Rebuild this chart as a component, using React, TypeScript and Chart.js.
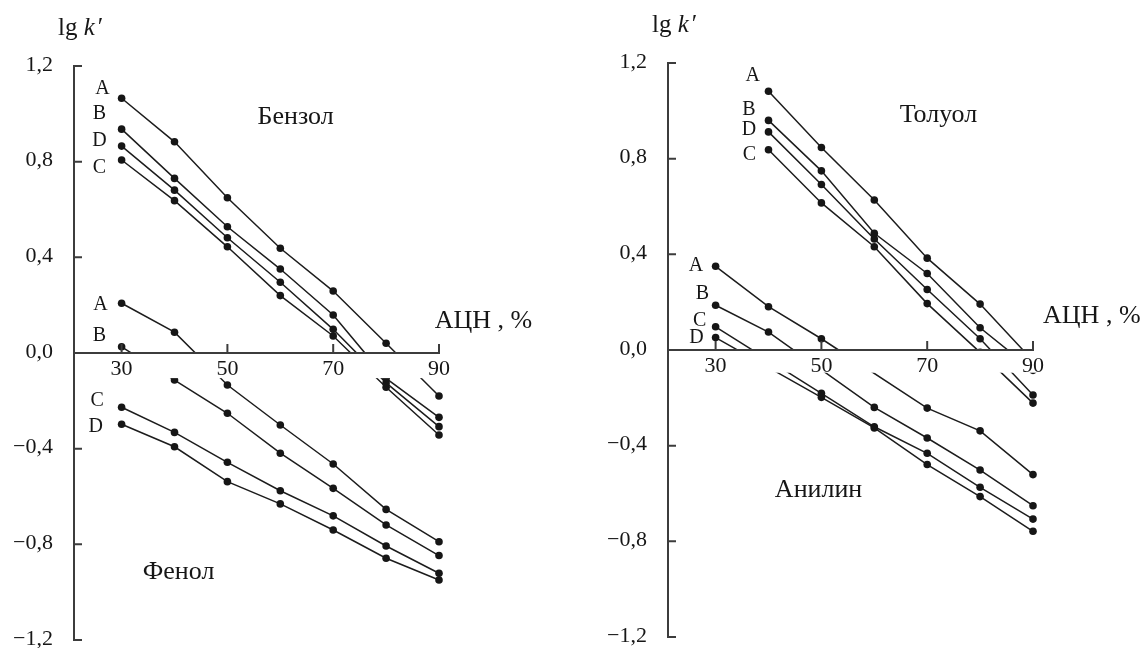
import React, { useEffect, useRef } from 'react';
import { Chart, registerables } from 'chart.js';

Chart.register(...registerables);

// ---------- data ----------
const concentrations = [30, 40, 50, 60, 70, 80, 90];
const yTicks = [1.2, 0.8, 0.4, 0, -0.4, -0.8, -1.2];
const yTickLabels = ['1,2', '0,8', '0,4', '0,0', '−0,4', '−0,8', '−1,2'];
const xTicks = [30, 50, 70, 90];
const xTickLabels = ['30', '50', '70', '90'];

// Бензол
const benzeneA = [1.065, 0.883, 0.649, 0.438, 0.259, 0.041, -0.18];
const benzeneB = [0.936, 0.73, 0.528, 0.351, 0.159, -0.106, -0.269];
const benzeneD = [0.865, 0.681, 0.482, 0.296, 0.099, -0.125, -0.308];
const benzeneC = [0.807, 0.637, 0.444, 0.24, 0.071, -0.143, -0.343];
// Фенол
const phenolA = [0.208, 0.087, -0.134, -0.301, -0.464, -0.654, -0.789];
const phenolB = [0.026, -0.113, -0.252, -0.419, -0.566, -0.719, -0.847];
const phenolC = [-0.227, -0.332, -0.457, -0.576, -0.681, -0.807, -0.921];
const phenolD = [-0.298, -0.392, -0.538, -0.631, -0.74, -0.858, -0.949];
// Толуол
const tolueneA = [null, 1.082, 0.847, 0.627, 0.384, 0.192, -0.045];
const tolueneB = [null, 0.96, 0.749, 0.488, 0.32, 0.093, -0.085];
const tolueneD = [null, 0.912, 0.692, 0.464, 0.253, 0.047, -0.188];
const tolueneC = [null, 0.837, 0.615, 0.432, 0.194, -0.01, -0.222];
// Анилин
const anilineA = [0.35, 0.181, 0.047, null, -0.243, -0.338, -0.521];
const anilineB = [0.187, 0.075, null, -0.24, -0.368, -0.502, -0.651];
const anilineC = [0.097, null, -0.181, -0.321, -0.432, -0.574, -0.707];
const anilineD = [0.052, null, -0.198, -0.326, -0.479, -0.613, -0.758];

const axisTitle = 'АЦН , %';

// ---------- panel configs ----------
type Label = { text: string; x: number; y: number };
type Panel = {
  series: (number | null)[][];
  letters: Label[];
  titles: Label[];
  unitPos: { x: number; y: number };
  bandBottom: number;
  padding: { left: number; right: number; top: number; bottom: number };
  width: number;
  offset: number;
};

const leftPanel: Panel = {
  series: [benzeneA, benzeneB, benzeneD, benzeneC, phenolA, phenolB, phenolC, phenolD],
  letters: [
    { text: 'A', x: 26.4, y: 1.108 },
    { text: 'B', x: 25.8, y: 1.003 },
    { text: 'D', x: 25.8, y: 0.89 },
    { text: 'C', x: 25.8, y: 0.778 },
    { text: 'A', x: 26.0, y: 0.208 },
    { text: 'B', x: 25.8, y: 0.075 },
    { text: 'C', x: 25.4, y: -0.196 },
    { text: 'D', x: 25.1, y: -0.305 },
  ],
  titles: [
    { text: 'Бензол', x: 55.7, y: 0.957 },
    { text: 'Фенол', x: 34.0, y: -0.945 },
  ],
  unitPos: { x: 89.2, y: 0.105 },
  bandBottom: -0.105,
  padding: { left: 74, right: 131, top: 66, bottom: 8 },
  width: 570,
  offset: 0,
};

const rightPanel: Panel = {
  series: [tolueneA, tolueneB, tolueneD, tolueneC, anilineA, anilineB, anilineC, anilineD],
  letters: [
    { text: 'A', x: 37.0, y: 1.149 },
    { text: 'B', x: 36.3, y: 1.007 },
    { text: 'D', x: 36.3, y: 0.923 },
    { text: 'C', x: 36.4, y: 0.819 },
    { text: 'A', x: 26.3, y: 0.355 },
    { text: 'B', x: 27.5, y: 0.24 },
    { text: 'C', x: 27.0, y: 0.125 },
    { text: 'D', x: 26.4, y: 0.054 },
  ],
  titles: [
    { text: 'Толуол', x: 64.8, y: 0.954 },
    { text: 'Анилин', x: 41.2, y: -0.613 },
  ],
  unitPos: { x: 91.9, y: 0.111 },
  bandBottom: -0.095,
  padding: { left: 98, right: 108, top: 63, bottom: 11 },
  width: 571,
  offset: 570,
};

const SERIF = '"Liberation Serif", "Times New Roman", serif';
const INK = '#161616';
const AXIS = '#3c3c3c';

function makeOverlay(panel: Panel) {
  return {
    id: 'overlay',
    beforeDraw(chart: any) {
      const { ctx } = chart;
      ctx.save();
      ctx.fillStyle = '#ffffff';
      ctx.fillRect(0, 0, chart.width, chart.height);
      ctx.restore();
    },
    afterDatasetsDraw(chart: any) {
      const { ctx, chartArea } = chart;
      const xs = chart.scales.x;
      const ys = chart.scales.y;
      const y0 = ys.getPixelForValue(0);
      const yb = ys.getPixelForValue(panel.bandBottom);
      ctx.save();
      // white band under the x axis (tick label strip)
      ctx.fillStyle = '#ffffff';
      ctx.fillRect(chartArea.left + 1.5, y0 + 1, chartArea.right - chartArea.left + 10, yb - y0 - 1);

      // axes
      ctx.strokeStyle = AXIS;
      ctx.lineWidth = 2;
      ctx.lineCap = 'butt';
      ctx.beginPath();
      ctx.moveTo(chartArea.left, chartArea.top);
      ctx.lineTo(chartArea.left, chartArea.bottom);
      yTicks.forEach((v) => {
        const py = ys.getPixelForValue(v);
        ctx.moveTo(chartArea.left - 1, py);
        ctx.lineTo(chartArea.left + 8, py);
      });
      ctx.moveTo(chartArea.left, y0);
      ctx.lineTo(chartArea.right + 1, y0);
      xTicks.forEach((v) => {
        const px = xs.getPixelForValue(v);
        ctx.moveTo(px, y0);
        ctx.lineTo(px, y0 - 9);
      });
      ctx.stroke();

      // tick labels
      ctx.fillStyle = INK;
      ctx.font = `22px ${SERIF}`;
      ctx.textAlign = 'right';
      ctx.textBaseline = 'middle';
      yTicks.forEach((v, i) => {
        ctx.fillText(yTickLabels[i], chartArea.left - 21, ys.getPixelForValue(v) - 1);
      });
      ctx.textAlign = 'center';
      xTicks.forEach((v, i) => {
        ctx.fillText(xTickLabels[i], xs.getPixelForValue(v), y0 + 16);
      });

      // axis names
      ctx.textAlign = 'left';
      ctx.textBaseline = 'alphabetic';
      ctx.font = `25px ${SERIF}`;
      let lx = chartArea.left - 16;
      const ly = chartArea.top - 31;
      ctx.fillText('lg ', lx, ly);
      lx += ctx.measureText('lg ').width;
      ctx.font = `italic 25px ${SERIF}`;
      ctx.fillText('k', lx, ly);
      lx += ctx.measureText('k').width + 3;
      ctx.font = `25px ${SERIF}`;
      ctx.fillText('′', lx, ly);

      ctx.font = `26px ${SERIF}`;
      ctx.fillText(axisTitle, xs.getPixelForValue(panel.unitPos.x), ys.getPixelForValue(panel.unitPos.y));

      // compound names
      panel.titles.forEach((t) => {
        ctx.fillText(t.text, xs.getPixelForValue(t.x), ys.getPixelForValue(t.y));
      });

      // series letters
      ctx.font = `20px ${SERIF}`;
      ctx.textAlign = 'center';
      ctx.textBaseline = 'middle';
      panel.letters.forEach((t) => {
        ctx.fillText(t.text, xs.getPixelForValue(t.x), ys.getPixelForValue(t.y) + 1);
      });
      ctx.restore();
    },
  };
}

function PanelChart({ panel }: { panel: Panel }) {
  const ref = useRef<HTMLCanvasElement | null>(null);
  useEffect(() => {
    if (!ref.current) return;
    const datasets = panel.series.map((vals) => ({
      data: concentrations.map((c, i) => ({ x: c, y: vals[i] })),
      borderColor: '#1c1c1c',
      borderWidth: 1.5,
      pointRadius: 3.8,
      pointBackgroundColor: INK,
      pointBorderWidth: 0,
      pointHoverRadius: 3.8,
      tension: 0,
      spanGaps: true,
      clip: false as any,
      fill: false,
    }));
    const chart = new Chart(ref.current, {
      type: 'line',
      data: { datasets: datasets as any },
      options: {
        responsive: false,
        animation: false,
        devicePixelRatio: 1,
        layout: { padding: panel.padding },
        plugins: { legend: { display: false }, tooltip: { enabled: false } },
        events: [],
        scales: {
          x: { type: 'linear', min: 21, max: 90, display: false },
          y: { type: 'linear', min: -1.2, max: 1.2, display: false },
        },
      },
      plugins: [makeOverlay(panel)],
    });
    return () => chart.destroy();
  }, [panel]);
  return (
    <canvas
      ref={ref}
      width={panel.width}
      height={648}
      style={{ position: 'absolute', left: panel.offset, top: 0, width: panel.width, height: 648 }}
    />
  );
}

export default function App() {
  return (
    <div style={{ position: 'fixed', left: 0, top: 0, width: 1141, height: 648, background: '#fff', overflow: 'hidden' }}>
      <PanelChart panel={leftPanel} />
      <PanelChart panel={rightPanel} />
    </div>
  );
}
